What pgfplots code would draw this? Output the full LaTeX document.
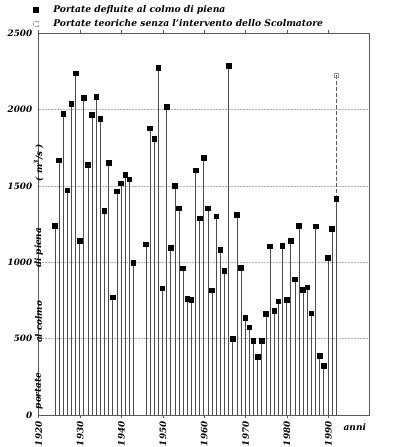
\documentclass[border=0pt]{standalone}
\usepackage{fontspec}
\setmainfont{DejaVu Serif}
\usepackage{pgfplots}
\usepackage{pgfplotstable}
\pgfplotsset{compat=1.18}
\pgfplotstableread{
anno portata
1923 1238
1924 1666
1925 1970
1926 1470
1927 2038
1928 2237
1929 1140
1930 2077
1931 1638
1932 1966
1933 2084
1934 1938
1935 1335
1936 1651
1937 771
1938 1463
1939 1516
1940 1571
1941 1542
1942 998
1945 1118
1946 1876
1947 1808
1948 2274
1949 830
1950 2016
1951 1094
1952 1500
1953 1352
1954 961
1955 760
1956 754
1957 1601
1958 1286
1959 1684
1960 1352
1961 815
1962 1300
1963 1083
1964 944
1965 2287
1966 498
1967 1311
1968 963
1969 636
1970 575
1971 487
1972 382
1973 485
1974 662
1975 1103
1976 680
1977 743
1978 1107
1979 752
1980 1142
1981 889
1982 1238
1983 819
1984 837
1985 666
1986 1236
1987 387
1988 323
1989 1027
1990 1217
1991 1414
}\defluite
\pgfplotstableread{
anno portata
1991 1414
1991 2223
}\teorica
\newcommand{\lab}{\bfseries\itshape}
\begin{document}
\begin{tikzpicture}
\useasboundingbox (0bp,0bp) rectangle (394bp,447bp);
\begin{axis}[
  at={(38.7bp,32bp)}, anchor=south west,
  scale only axis, width=331bp, height=382bp,
  xmin=1920, xmax=2000, ymin=0, ymax=2500,
  xtick={1920,1930,...,1990},
  ytick={0,500,...,2500},
  /pgf/number format/1000 sep={},
  /pgf/number format/assume math mode=true,
  ymajorgrids,
  grid style={gray!60, line width=0.5bp, dash pattern=on 1bp off 0.5bp},
  axis line style={gray!70!black, line width=0.6bp},
  ytick style={draw=none},
  xtick style={gray!70!black, line width=0.5bp},
  tick align=outside, major tick length=3bp,
  x tick label style={font=\fontsize{8.8bp}{10bp}\lab, rotate=90, anchor=east},
  y tick label style={font=\fontsize{8.8bp}{10bp}\lab},
  clip=false,
  legend style={at={(-0.017,1.078)}, anchor=north west, draw=none, fill=none,
    font=\fontsize{9.2bp}{10bp}\lab, inner sep=0pt, row sep=1.5bp,
    /tikz/every odd column/.append style={column sep=13bp}},
  legend cell align=left,
]
\addplot[ycomb, draw=gray!60!black, line width=0.6bp,
  mark=square*, mark size=2.3bp, mark options={solid, fill=black, draw=black},
  legend image code/.code={\draw[fill=black,draw=black] (0bp,-2.2bp) rectangle (4.4bp,2.2bp);}]
  table[x expr=\thisrow{anno}+0.9, y=portata] {\defluite};
\addlegendentry{Portate defluite al colmo di piena}
\addplot[draw=gray!70!black, line width=0.6bp, dash pattern=on 4bp off 2bp,
  mark=square, mark size=2.3bp, mark indices={2}, mark options={solid, draw=gray!80, fill=white},
  legend image code/.code={\draw[draw=gray!70,fill=white] (0bp,-2.2bp) rectangle (4.4bp,2.2bp);}]
  table[x expr=\thisrow{anno}+0.9, y=portata] {\teorica};
\addlegendentry{Portate teoriche senza l'intervento dello Scolmatore}
\node[rotate=90, font=\fontsize{8.8bp}{10bp}\lab] at (axis cs:1920,288) [xshift=-20bp] {portate};
\node[rotate=90, font=\fontsize{8.8bp}{10bp}\lab] at (axis cs:1920,740) [xshift=-20bp] {al colmo};
\node[rotate=90, font=\fontsize{8.8bp}{10bp}\lab] at (axis cs:1920,1225) [xshift=-20bp] {di piena};
\node[rotate=90, font=\fontsize{8.8bp}{10bp}\lab] at (axis cs:1920,1782) [xshift=-20bp] {( m\textsuperscript{3}/s )};
\node[font=\fontsize{9bp}{10bp}\lab] at (axis cs:1996.4,0) [yshift=-12bp] {anni};
\end{axis}
\end{tikzpicture}
\end{document}
